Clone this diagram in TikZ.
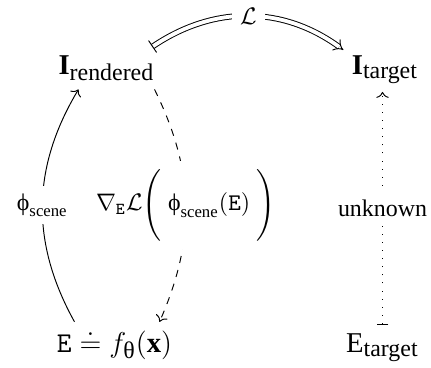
\documentclass[tikz,border=0pt]{standalone}
\usepackage{amsmath}
\usepackage{fontspec}
\setmainfont{Liberation Serif}
\usetikzlibrary{arrows.meta, calc}
\DeclareMathSizes{12}{12}{10}{8}

\begin{document}
\begin{tikzpicture}[
    x=0.4184pt, y=0.4184pt,
    cell/.style={inner sep=0.333em, anchor=base, font=\fontsize{12}{14}\selectfont},
    desc/.style={fill=white, inner sep=0.333em, font=\fontsize{10}{12}\selectfont},
    arrow/.style={line width=0.4pt, -{Computer Modern Rightarrow}},
    mapsto/.style={line width=0.4pt, {Bar[width=5pt]}-{Computer Modern Rightarrow}}
]
    \useasboundingbox (0,0) rectangle (431,-367);

    % Images and embeddings
    \node[cell] (Ir) at (106.5,-74)  {$\text{\bfseries I}_{\text{rendered}}$};
    \node[cell] (It) at (385,-74)    {$\text{\bfseries I}_{\text{target}}$};
    \node[cell] (E)  at (114.5,-352) {$\mathtt{E}\doteq f_{\text{θ}}(\mathbf{x})$};
    \node[cell] (Et) at (382.5,-352) {$\text{E}_{\text{target}}$};

    % Loss
    \draw[double, double distance=1.6pt, {Bar[width=6pt]}-{Implies}]
        (Ir.25) to[bend left=35] node[desc] {$\mathcal{L}$} (It.155);

    % Render and gradient
    \draw[arrow] ($(E.north)+(-40,0)$) to[bend left=30]
        node[desc] {$\text{ϕ}_{\text{scene}}$} ($(Ir.south)+(-28,0)$);
    \draw[arrow, dashed] ($(Ir.south)+(48,0)$) to[bend left=25]
        node[desc] {$\nabla_{\mathtt{E}}\mathcal{L}\Bigg(\;\text{ϕ}_{\text{scene}}(\mathtt{E})\;\Bigg)$}
        ($(E.north)+(45,0)$);

    % Unknown map
    \draw[mapsto, dash pattern=on 0.4pt off 3pt] (Et.north) --
        node[desc] {unknown} (Et.north |- It.south);
\end{tikzpicture}
\end{document}
